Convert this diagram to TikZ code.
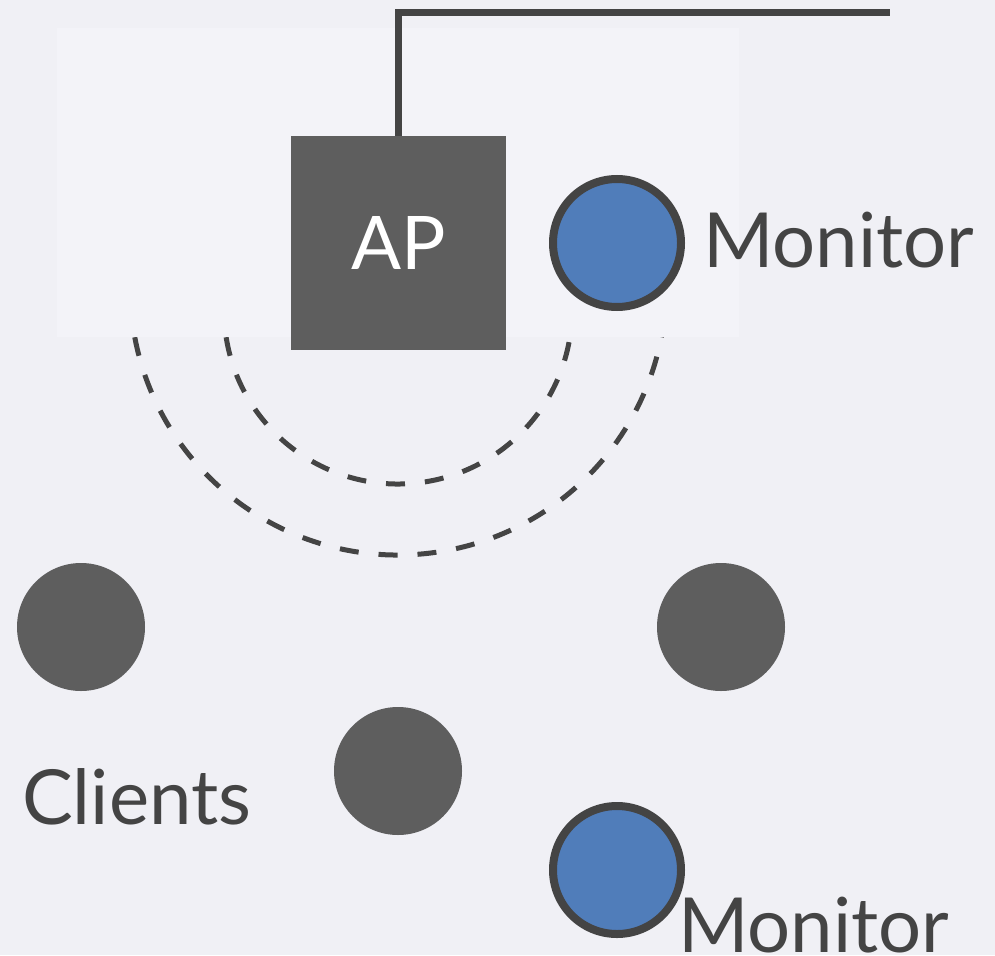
\documentclass[tikz,border=0pt]{standalone}
\usepackage{fontspec}
\setmainfont{Lato}
\begin{document}
\begin{tikzpicture}[x=1pt,y=-1pt,
  wire/.style={draw=wirecol,line width=7pt,line join=miter},
  wave/.style={draw=wirecol,line width=5pt,dash pattern=on 19pt off 20pt},
  apbox/.style={rectangle,fill=apgray,minimum width=215pt,minimum height=214pt,inner sep=0pt,
    text=white,font=\fontsize{74}{80}\selectfont},
  monitor/.style={circle,fill=monblue,draw=wirecol,line width=8pt,minimum size=128pt,inner sep=0pt},
  client/.style={circle,fill=apgray,minimum size=128pt,inner sep=0pt},
  lbl/.style={anchor=base west,inner sep=0pt,text=wirecol,font=\fontsize{76}{80}\selectfont}]
\definecolor{bgcol}{RGB}{240,240,245}
\definecolor{panel}{RGB}{243,243,248}
\definecolor{wirecol}{RGB}{68,68,68}
\definecolor{apgray}{RGB}{94,94,94}
\definecolor{monblue}{RGB}{80,125,186}
\useasboundingbox (0,0) rectangle (995,955);
\fill[bgcol] (0,0) rectangle (995,955);
% radio waves below the access point (upper ends hidden by the panel)
\draw[wave] (398,310) ++(171:174) arc[start angle=171,end angle=2,radius=174];
\draw[wave] (398,287) ++(169.2:268) arc[start angle=169.2,end angle=2,radius=268];
\fill[panel] (57,28) rectangle (739,337);
% access point and uplink
\node[apbox] (ap) at (398.5,243) {AP};
\coordinate (uplink) at (890,13);
\draw[wire] (ap.north) |- (uplink);
% monitors
\node[monitor] (mon1) at (617,243) {};
\node[lbl] (mon1lbl) at (703,267) {Monitor};
\node[monitor] (mon2) at (617,870) {};
\node[lbl] (mon2lbl) at (678,952) {Monitor};
% clients
\node[client] (c1) at (81,627) {};
\node[client] (c2) at (398,771) {};
\node[client] (c3) at (721,627) {};
\node[lbl] (clients) at (22,824) {Clients};
\end{tikzpicture}
\end{document}
